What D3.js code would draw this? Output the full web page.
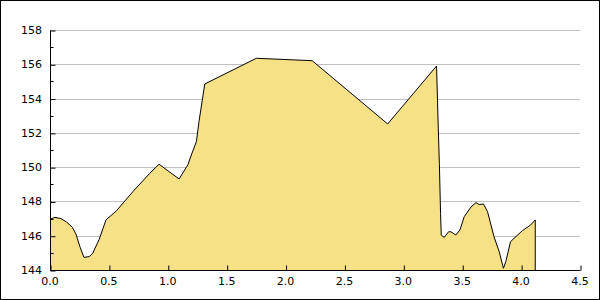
<!DOCTYPE html>
<html>
<head>
<meta charset="utf-8">
<script src="https://cdn.jsdelivr.net/npm/d3@7"></script>
<style>
  body { margin: 0; background: #fff; }
  text { font-family: "DejaVu Sans", Verdana, sans-serif; font-size: 11px; fill: #000; }
</style>
</head>
<body>
<svg id="chart"></svg>
<script>
// values
const xValues = [0, 0.042, 0.093, 0.14, 0.19, 0.22, 0.254, 0.288, 0.333, 0.362, 0.418, 0.475,
  0.565, 0.706, 0.847, 0.926, 1.096, 1.17, 1.2, 1.243, 1.265, 1.314, 1.752, 2.226, 2.867, 3.282,
  3.297, 3.306, 3.316, 3.322, 3.347, 3.384, 3.404, 3.446, 3.48, 3.517, 3.573, 3.616, 3.644, 3.68,
  3.715, 3.77, 3.814, 3.85, 3.87, 3.91, 3.94, 4.01, 4.08, 4.12];
const yValues = [146.96, 147.07, 147.0, 146.8, 146.49, 146.1, 145.36, 144.74, 144.78, 144.97, 145.79, 146.92,
  147.46, 148.59, 149.64, 150.17, 149.31, 150.13, 150.71, 151.49, 152.65, 154.85, 156.35, 156.21, 152.52, 155.9,
  152.17, 150.2, 147.31, 146.04, 145.9, 146.23, 146.23, 146.04, 146.33, 147.11, 147.66, 147.93, 147.82, 147.85,
  147.4, 145.94, 145.07, 144.1, 144.49, 145.65, 145.85, 146.29, 146.62, 146.92];
const xTicks = [0, 0.5, 1, 1.5, 2, 2.5, 3, 3.5, 4, 4.5];
const yTicks = [144, 146, 148, 150, 152, 154, 156, 158];
const yMinorTicks = [145, 147, 149, 151, 153, 155, 157];

const data = xValues.map((x, i) => ({x: x, y: yValues[i]}));

const width = 600, height = 300;
const margin = {top: 30, right: 20, bottom: 30, left: 50};

const svg = d3.select('#chart')
    .attr('width', width)
    .attr('height', height);

// outer frame
svg.append('rect')
    .attr('x', 0.5).attr('y', 0.5)
    .attr('width', width - 1).attr('height', height - 1)
    .attr('fill', '#fff').attr('stroke', '#000');

const x = d3.scaleLinear().domain([0, 4.5]).range([margin.left, width - margin.right]);
const y = d3.scaleLinear().domain([144, 158]).range([height - margin.bottom, margin.top]);

// grid
svg.append('g').selectAll('line')
    .data(yTicks.slice(1))
    .join('line')
    .attr('x1', x(0)).attr('x2', x(4.5))
    .attr('y1', d => Math.round(y(d)) + 0.5).attr('y2', d => Math.round(y(d)) + 0.5)
    .attr('stroke', '#c0c0c0');

// area
const area = d3.area()
    .x(d => x(d.x))
    .y0(y(144))
    .y1(d => y(d.y));
const line = d3.line()
    .x(d => x(d.x))
    .y(d => y(d.y));

svg.append('path')
    .datum(data)
    .attr('d', area)
    .attr('fill', '#f7e186');

const last = data[data.length - 1];
svg.append('path')
    .datum(data.concat([{x: last.x, y: 144}]))
    .attr('d', line)
    .attr('fill', 'none')
    .attr('stroke', '#000')
    .attr('stroke-width', 1);

// y axis
const yAxis = svg.append('g')
    .attr('transform', `translate(${x(0) + 0.5},0.5)`)
    .call(d3.axisRight(y).tickValues(yTicks).tickSize(5).tickFormat(''));
yAxis.select('.domain').attr('d', `M0,${y(158)}V${y(144)}`);
yAxis.selectAll('.tick line').attr('y1', 0).attr('y2', 0);
svg.append('g')
    .attr('transform', `translate(${x(0) + 0.5},0.5)`)
    .selectAll('line')
    .data(yMinorTicks)
    .join('line')
    .attr('x1', 0).attr('x2', 3)
    .attr('y1', d => Math.round(y(d))).attr('y2', d => Math.round(y(d)))
    .attr('stroke', '#000');
svg.append('g').selectAll('text')
    .data(yTicks)
    .join('text')
    .attr('x', x(0) - 8)
    .attr('y', d => y(d) + 4)
    .attr('text-anchor', 'end')
    .text(d => d);

// x axis
const xAxis = svg.append('g')
    .attr('transform', `translate(0.5,${y(144) + 0.5})`)
    .call(d3.axisTop(x).tickValues(xTicks).tickSize(5).tickFormat(''));
xAxis.select('.domain').attr('d', `M${x(0)},0H${x(4.5)}`);
svg.append('g').selectAll('text')
    .data(xTicks)
    .join('text')
    .attr('x', d => x(d))
    .attr('y', y(144) + 15)
    .attr('text-anchor', 'middle')
    .text(d => d3.format('.1f')(d));
</script>
</body>
</html>
